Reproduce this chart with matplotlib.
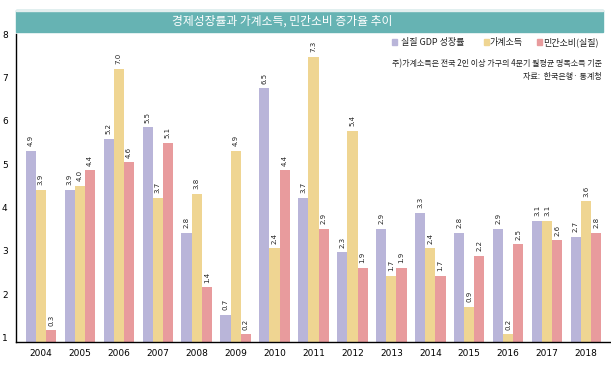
import matplotlib.pyplot as plt
import numpy as np
from matplotlib.patches import Rectangle

plt.rcParams['font.family'] = ['Noto Sans CJK KR', 'DejaVu Sans']

years = ['2004', '2005', '2006', '2007', '2008', '2009', '2010', '2011',
         '2012', '2013', '2014', '2015', '2016', '2017', '2018']
gdp = [4.9, 3.9, 5.2, 5.5, 2.8, 0.7, 6.5, 3.7, 2.3, 2.9, 3.3, 2.8, 2.9, 3.1, 2.7]
income = [3.9, 4.0, 7.0, 3.7, 3.8, 4.9, 2.4, 7.3, 5.4, 1.7, 2.4, 0.9, 0.2, 3.1, 3.6]
consumption = [0.3, 4.4, 4.6, 5.1, 1.4, 0.2, 4.4, 2.9, 1.9, 1.9, 1.7, 2.2, 2.5, 2.6, 2.8]
series_names = ['실질 GDP 성장률', '가계소득', '민간소비(실질)']
tick_labels = [1, 2, 3, 4, 5, 6, 7, 8]

colors = ['#b9b5d9', '#efd592', '#e89b9d']
teal = '#66b3b3'

fig = plt.figure(figsize=(6.11, 3.74), dpi=100)
W, H = 611, 374
ax = fig.add_axes([16 / W, 1 - 342 / H, (611 - 16) / W, (342 - 34) / H])

x = np.arange(len(years))
bw = 0.26
for i, (vals, c) in enumerate(zip([gdp, income, consumption], colors)):
    pos = x + (i - 1) * bw
    ax.bar(pos, vals, width=bw, color=c, label=series_names[i])
    for px, v in zip(pos, vals):
        ax.text(px, v + 0.12, f'{v:.1f}', rotation=90, ha='center', va='bottom',
                fontsize=5, family='DejaVu Sans', color='#222222')

# the printed axis: tick "t" sits at value (t - 0.9) / 0.9
ax.set_yticks([(t - 0.9) / 0.9 for t in tick_labels])
ax.set_yticklabels([str(t) for t in tick_labels], fontsize=6.5, family='DejaVu Sans')
ax.set_ylim(0, (8 - 0.9) / 0.9)
ax.set_xlim(-0.64, len(years) - 1 + 0.64)
ax.set_xticks(x)
ax.set_xticklabels(years, fontsize=6.5, family='DejaVu Sans')
ax.tick_params(axis='x', length=0, pad=5)
ax.tick_params(axis='y', length=0, pad=6)
for s in ['top', 'right']:
    ax.spines[s].set_visible(False)
ax.spines['left'].set_linewidth(1.0)
ax.spines['bottom'].set_linewidth(1.0)

# title band
fig.patches.append(Rectangle((16 / W, 1 - 32 / H), (603 - 16) / W, 22 / H,
                             transform=fig.transFigure, color=teal, zorder=0))
fig.patches.append(Rectangle((16 / W, 1 - 10.5 / H), (603 - 16) / W, 0.8 / H,
                             transform=fig.transFigure, color='#e2eeee', zorder=0))
fig.text(282 / W, 1 - 21 / H, '경제성장률과 가계소득, 민간소비 증가율 추이',
         color='white', fontsize=8.5, ha='center', va='center')

# legend
leg_items = [(392, 401), (484, 490), (537, 543)]
for (mx, tx), name, c in zip(leg_items, series_names, colors):
    fig.patches.append(Rectangle((mx / W, 1 - 44.5 / H), 5 / W, 5 / H,
                                 transform=fig.transFigure, color=c))
    fig.text(tx / W, 1 - 42 / H, name, fontsize=6.5, ha='left', va='center',
             color='#222222')

fig.text(602 / W, 1 - 64 / H, '주)가계소득은 전국 2인 이상 가구의 4분기 월평균 명목소득 기준',
         fontsize=5.8, ha='right', va='center', color='#222222')
fig.text(602 / W, 1 - 77 / H, '자료:  한국은행· 통계청',
         fontsize=5.8, ha='right', va='center', color='#222222')

fig.savefig('out.png', dpi=100)
